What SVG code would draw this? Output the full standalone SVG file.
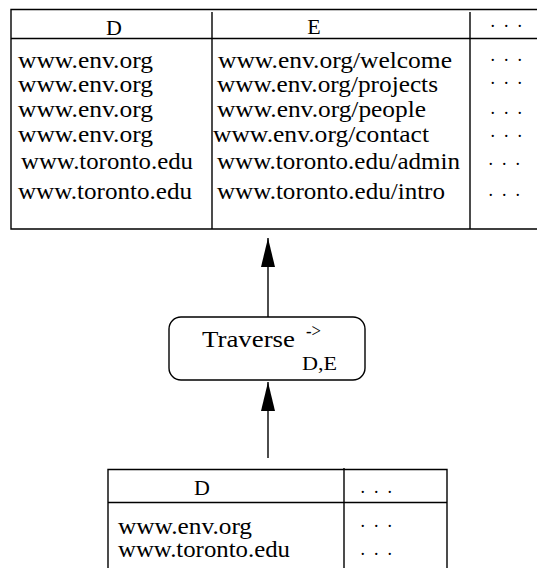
<svg xmlns="http://www.w3.org/2000/svg" width="537" height="568" viewBox="0 0 537 568">
<defs>
<style>
.ln{fill:none;stroke:#000;stroke-width:1.4}
.t{font-family:"Liberation Serif","Times New Roman",serif;font-size:23px;fill:#000}
.h{font-family:"Liberation Serif","Times New Roman",serif;font-size:22px;fill:#000;text-anchor:middle}
.d{font-family:"Liberation Serif","Times New Roman",serif;font-size:18px;letter-spacing:1.5px;fill:#000;text-anchor:middle}
</style>
<marker id="ah" markerUnits="userSpaceOnUse" markerWidth="30" markerHeight="15" refX="29" refY="7" orient="auto">
<path d="M0,0 L29,7 L0,14 Z" fill="#000"/>
</marker>
</defs>
<rect width="537" height="568" fill="#fff"/>
<g id="output-table">
<path class="ln" d="M551,9.5 H11 V229 H551 M11,38.5 H551 M212,12 V229 M470,12 V229"/>
<text class="h" x="114" y="35">D</text>
<text class="h" x="314" y="34">E</text>
<text class="d" x="507" y="32">· · ·</text>
<text class="t" x="18" y="68" textLength="135" lengthAdjust="spacingAndGlyphs">www.env.org</text>
<text class="t" x="18" y="92" textLength="135" lengthAdjust="spacingAndGlyphs">www.env.org</text>
<text class="t" x="18" y="117" textLength="135" lengthAdjust="spacingAndGlyphs">www.env.org</text>
<text class="t" x="18" y="142" textLength="135" lengthAdjust="spacingAndGlyphs">www.env.org</text>
<text class="t" x="21" y="169" textLength="172" lengthAdjust="spacingAndGlyphs">www.toronto.edu</text>
<text class="t" x="18" y="199" textLength="174" lengthAdjust="spacingAndGlyphs">www.toronto.edu</text>
<text class="t" x="218" y="68" textLength="234" lengthAdjust="spacingAndGlyphs">www.env.org/welcome</text>
<text class="t" x="217" y="92" textLength="221" lengthAdjust="spacingAndGlyphs">www.env.org/projects</text>
<text class="t" x="217" y="117" textLength="209" lengthAdjust="spacingAndGlyphs">www.env.org/people</text>
<text class="t" x="213" y="142" textLength="216" lengthAdjust="spacingAndGlyphs">www.env.org/contact</text>
<text class="t" x="217" y="169" textLength="243" lengthAdjust="spacingAndGlyphs">www.toronto.edu/admin</text>
<text class="t" x="217" y="199" textLength="228" lengthAdjust="spacingAndGlyphs">www.toronto.edu/intro</text>
<text class="d" x="507" y="66">· · ·</text>
<text class="d" x="507" y="89">· · ·</text>
<text class="d" x="507" y="119">· · ·</text>
<text class="d" x="507" y="142">· · ·</text>
<text class="d" x="505" y="170">· · ·</text>
<text class="d" x="505" y="201">· · ·</text>
</g>
<g id="traverse">
<rect class="ln" x="169" y="317" width="196" height="63" rx="12" ry="12"/>
<text class="t" x="202" y="347" textLength="93" lengthAdjust="spacingAndGlyphs">Traverse</text>
<text class="t" x="306" y="337" style="font-size:18px" textLength="15" lengthAdjust="spacingAndGlyphs">-&gt;</text>
<text class="t" x="302" y="370" style="font-size:19px" textLength="35" lengthAdjust="spacingAndGlyphs">D,E</text>
</g>
<g id="input-table">
<path class="ln" d="M108,568 V469.5 H447 V568 M108,502.5 H447 M344,468 V568"/>
<text class="h" x="202" y="495">D</text>
<text class="d" x="377" y="498">· · ·</text>
<text class="t" x="118" y="534" textLength="134" lengthAdjust="spacingAndGlyphs">www.env.org</text>
<text class="t" x="118" y="557" textLength="172" lengthAdjust="spacingAndGlyphs">www.toronto.edu</text>
<text class="d" x="377" y="532">· · ·</text>
<text class="d" x="377" y="560">· · ·</text>
</g>
<g id="connectors">
<line class="ln" x1="268" y1="317" x2="268" y2="238" marker-end="url(#ah)"/>
<line class="ln" x1="268" y1="458" x2="268" y2="382" marker-end="url(#ah)"/>
</g>
</svg>
